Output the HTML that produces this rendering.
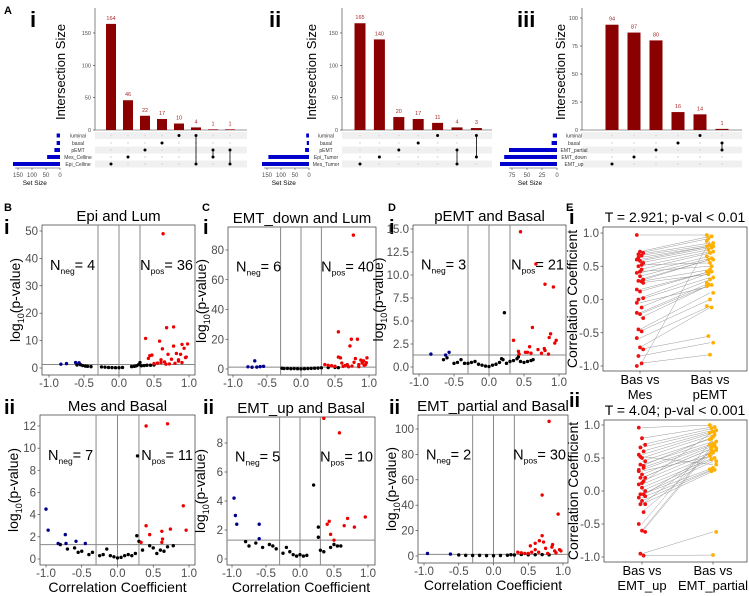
<!DOCTYPE html>
<html><head><meta charset="utf-8"><style>
body{margin:0;background:#fff}
svg{display:block;font-family:"Liberation Sans",sans-serif}
</style></head><body>
<svg id="fig" width="749" height="596" viewBox="0 0 749 596" xmlns="http://www.w3.org/2000/svg"></svg>
<script>
// ---------- UpSet data ----------
const upsetI_values=[164,46,22,17,10,4,1,1];
const upsetI_sets=["luminal","basal","pEMT","Mes_Celline","Epi_Celline"];
const upsetI_setSizes=[12,12,20,46,168];
const upsetI_members=[[4],[3],[2],[1],[0],[0,4],[2,3],[2,4]];
const upsetII_values=[165,140,20,17,11,4,3];
const upsetII_sets=["luminal","basal","pEMT","Epi_Tumor","Mes_Tumor"];
const upsetII_setSizes=[10,8,14,145,168];
const upsetII_members=[[4],[3],[2],[1],[0],[2,4],[0,3]];
const upsetIII_values=[94,87,80,16,14,1];
const upsetIII_sets=["luminal","basal","EMT_partial","EMT_down","EMT_up"];
const upsetIII_setSizes=[7,9,80,88,95];
const upsetIII_members=[[4],[3],[2],[1],[0],[1,2]];

// ---------- Volcano data [corr, -log10 p] ----------
const bI_blue=[[-0.83,1.4],[-0.75,1.6],[-0.62,2.0],[-0.57,1.9]];
const bI_black=[[-0.6,1.1],[-0.55,1.2],[-0.52,0.9],[-0.48,0.7],[-0.45,0.6],[-0.4,0.5],[-0.25,0.4],[-0.2,0.3],[-0.15,0.2],[-0.1,0.15],[-0.05,0.1],[0,0.1],[0.05,0.2],[0.18,0.5],[0.22,0.6],[0.25,0.8],[0.28,1.2],[0.3,2],[0.32,0.8],[0.36,0.9],[0.4,1],[0.45,1],[0.5,1.1]];
const bI_red=[[0.38,10.8],[0.42,3.5],[0.44,4.5],[0.47,4.7],[0.58,9.8],[0.62,7],[0.68,14.7],[0.78,15],[0.7,5],[0.78,8],[0.85,3],[0.9,8.6],[0.93,7.2],[0.98,8.8],[0.96,4],[0.88,5],[0.6,2],[0.65,2.2],[0.72,1.5],[0.55,1.8],[0.63,49],[0.85,2.5],[0.9,2],[0.5,1.6],[0.67,1.4],[0.8,1.7],[0.75,3.2],[0.82,5.3],[0.95,3.8],[0.6,3]];
const cI_blue=[[-0.78,1.5],[-0.72,1.2],[-0.68,5.5],[-0.65,1.3],[-0.6,1.6],[-0.55,1.8]];
const cI_black=[[-0.28,0.5],[-0.25,0.3],[-0.2,0.4],[-0.15,0.2],[-0.1,0.3],[0,0.1],[0.05,0.2],[0.1,0.3],[0.15,0.4],[0.2,0.5],[0.25,0.6],[0.3,0.8],[0.4,1],[0.5,1.1],[0.55,0.9],[-0.05,0.2]];
const cI_red=[[0.77,90],[0.55,25],[0.74,20],[0.83,20],[0.72,15.5],[0.55,8],[0.58,7.5],[0.6,4],[0.35,3],[0.4,2.5],[0.45,2.2],[0.5,1.8],[0.65,2.3],[0.68,3],[0.75,2],[0.78,4.5],[0.8,7],[0.85,3],[0.88,6],[0.9,4],[0.92,5.5],[0.95,3],[0.97,7.5],[0.93,2.5],[0.96,4.2],[0.85,1.6],[0.62,1.8],[0.7,1.5]];
const dI_blue=[[-0.83,1.4],[-0.62,1.3],[-0.57,1.6]];
const dI_black=[[-0.65,0.8],[-0.6,1.0],[-0.5,0.4],[-0.45,0.5],[-0.4,0.8],[-0.35,0.4],[-0.3,0.4],[-0.25,0.5],[-0.2,0.6],[-0.15,0.3],[-0.1,0.2],[-0.05,0.1],[0,0.05],[0.05,0.2],[0.1,0.3],[0.15,0.5],[0.18,0.9],[0.22,5.9],[0.2,0.8],[0.25,0.4],[0.3,0.6],[0.35,0.7],[0.4,0.9],[0.42,1.1],[0.45,0.6],[0.5,0.5],[0.55,0.6],[0.6,0.7],[0.63,0.8]];
const dI_red=[[0.45,14.7],[0.67,11.2],[0.8,9],[0.92,8.7],[0.62,4.3],[0.88,3.6],[0.86,3.2],[0.96,2.9],[0.94,2.6],[0.35,2.9],[0.42,1.7],[0.55,1.6],[0.58,2.2],[0.7,1.9],[0.75,1.5],[0.8,1.8],[0.85,1.4],[0.6,1.5],[0.43,1.4],[0.52,1.6],[0.79,2]];
const bII_blue=[[-1.0,4.5],[-0.97,2.6],[-0.83,1.4],[-0.73,2.2],[-0.72,1.4],[-0.58,1.6],[-0.45,1.4]];
const bII_black=[[-0.8,1.3],[-0.7,0.9],[-0.6,1],[-0.55,0.6],[-0.5,0.7],[-0.4,0.4],[-0.35,0.6],[-0.25,0.3],[-0.2,0.4],[-0.15,0.9],[-0.1,0.3],[-0.05,0.2],[0,0.1],[0.05,0.15],[0.1,0.3],[0.15,0.4],[0.2,0.3],[0.25,0.5],[0.27,2.1],[0.28,9.3],[0.3,1.6],[0.35,0.8],[0.45,1.2],[0.5,1.0],[0.55,0.5],[0.6,0.8],[0.65,0.7],[0.7,1.1],[0.78,1.2]];
const bII_red=[[0.4,12],[0.7,12.2],[0.4,3],[0.45,2.2],[0.62,2.5],[0.63,1.8],[0.62,1.5],[0.74,2.7],[0.92,4.8],[0.96,2.6],[0.33,1.5]];
const cII_blue=[[-0.97,4.2],[-0.95,3],[-0.93,2.4],[-0.6,2.4],[-0.6,1.4]];
const cII_black=[[-0.8,1.2],[-0.75,0.9],[-0.65,1.1],[-0.55,0.8],[-0.45,1.0],[-0.4,0.9],[-0.35,0.7],[-0.25,0.4],[-0.2,0.8],[-0.15,0.5],[-0.1,0.3],[-0.05,0.2],[0,0.3],[0.05,0.2],[0.1,0.25],[0.2,5.1],[0.27,2.2],[0.27,1.5],[0.3,0.6],[0.35,0.5],[0.45,0.8],[0.5,1.0],[0.55,0.9],[0.6,0.9]];
const cII_red=[[0.35,9.7],[0.58,8.7],[0.4,2.4],[0.43,2.6],[0.45,1.7],[0.5,1.3],[0.65,2.3],[0.7,2.8],[0.8,2.2],[0.96,2.9]];
const dII_blue=[[-0.95,2],[-0.62,1.5]];
const dII_black=[[-0.5,0.8],[-0.4,0.5],[-0.3,0.4],[-0.2,0.5],[-0.1,0.3],[0,0.2],[0.1,0.4],[0.2,0.6],[0.25,1],[0.3,0.8],[0.4,1.2],[0.5,0.9],[0.6,1],[0.7,1.1],[0.8,0.9]];
const dII_red=[[0.8,106],[0.7,48],[0.93,33],[0.7,16],[0.66,12],[0.72,11],[0.6,10],[0.53,8],[0.55,3],[0.6,5],[0.75,6],[0.84,7],[0.88,4],[0.9,2.5],[0.95,5],[0.97,4],[0.35,3],[0.4,2.5],[0.45,2],[0.65,3],[0.78,2],[0.85,9],[0.5,2]];

// ---------- Paired data ----------
const eI_left=[0.97,0.72,0.7,0.68,0.66,0.6,0.58,0.55,0.5,0.45,0.4,0.35,0.3,0.28,0.27,0.15,0.12,0.02,0.0,-0.12,-0.2,-0.22,-0.28,-0.45,-0.48,-0.58,-0.72,-0.75,-0.85,-0.96,-1.0,0.42,0.25,0.63,0.52,-0.05];
const eI_right=[0.97,0.95,0.92,0.85,0.82,0.8,0.78,0.75,0.72,0.7,0.65,0.62,0.6,0.6,0.45,0.42,0.42,0.4,0.33,0.3,0.25,0.22,0.22,0.1,0.0,-0.1,-0.12,-0.55,-0.65,-0.83,0.88,0.5,0.38,0.8,0.55,0.2];
const eII_left=[0.96,0.8,0.7,0.66,0.6,0.55,0.5,0.45,0.4,0.35,0.32,0.25,0.2,0.2,0.15,0.1,0.05,0.0,-0.05,-0.05,-0.1,-0.15,-0.2,-0.2,-0.32,-0.5,-0.6,-0.62,-0.95,-0.98,0.3,0.12,-0.08,0.52,0.38];
const eII_right=[1.0,0.97,0.95,0.92,0.9,0.88,0.85,0.8,0.75,0.72,0.7,0.68,0.65,0.65,0.6,0.55,0.5,0.48,0.45,0.35,0.33,0.32,0.3,0.62,0.58,0.78,0.7,0.67,-0.62,-0.97,0.53,0.9,0.6,0.4,0.82];

const NS="http://www.w3.org/2000/svg";
const svg=document.getElementById('fig');
function mk(tag,attrs,parent,text){const e=document.createElementNS(NS,tag);for(const k in attrs)e.setAttribute(k,attrs[k]);if(text!==undefined)e.textContent=text;(parent||svg).appendChild(e);return e;}
function grp(name){const g=mk('g',{});return g;}

[["A",4,14],["B",4,211],["C",202,211],["D",388,211],["E",566,211]].forEach(([t,x,y])=>{
 const e=mk('text',{x:x,y:y,'font-size':11,'font-weight':'bold'},svg,t);
 });
function roman(t,x,y,s){const e=mk('text',{x:x,y:y,'font-size':s||20,'font-weight':'900','font-family':'Liberation Sans, sans-serif'},svg,t);
 }
roman("i",30,27,22);roman("ii",269,27,22);roman("iii",517,27,22);
roman("i",4,234,20);roman("ii",4,414,20);roman("i",203,234,20);roman("ii",203,414,20);
roman("i",389,234,20);roman("ii",389,414,20);roman("i",569,224,20);roman("ii",569,407,20);

// ---------- UpSet ----------
function upset(name,cfg,values,sets,setSizes,members){
 const g=grp(name);
 const base=130, yScale=v=>base-v*cfg.py;
 mk('line',{x1:cfg.ax,y1:cfg.axTop,x2:cfg.ax,y2:base,stroke:'#333','stroke-width':0.6},g);
 mk('line',{x1:cfg.ax,y1:base,x2:cfg.ax+cfg.axLen,y2:base,stroke:'#333','stroke-width':0.6},g);
 cfg.ticks.forEach(t=>{const y=yScale(t);mk('line',{x1:cfg.ax-2,y1:y,x2:cfg.ax,y2:y,stroke:'#333','stroke-width':0.6},g);
  mk('text',{x:cfg.ax-4,y:y+2,'font-size':5.5,'text-anchor':'end',fill:'#4d4d4d'},g,t);});
 const yl=mk('text',{x:0,y:0,'font-size':13,'text-anchor':'middle',transform:`translate(${cfg.labX},${cfg.labY}) rotate(-90)`},g,'Intersection Size');
 
 const rowY=[135.5,143,150,157,164];
 rowY.forEach((y,i)=>{if(i%2==0){mk('rect',{x:cfg.ax,y:y-3.5,width:cfg.axLen,height:7,fill:'#f0f0f0'},g);}});
 values.forEach((v,i)=>{const cx=cfg.x0+i*cfg.dx;
  const b=mk('rect',{x:cx-cfg.bw/2,y:yScale(v),width:cfg.bw,height:v*cfg.py,fill:'#8b0000'},g);
  
  mk('text',{x:cx,y:yScale(v)-4,'font-size':5.5,'text-anchor':'middle',fill:'#a52a2a'},g,v);
  rowY.forEach((y,r)=>mk('circle',{cx:cx,cy:y,r:0.9,fill:'#d9d9d9'},g));
  const m=members[i];const ys=m.map(r=>rowY[r]);
  if(m.length>1)mk('line',{x1:cx,y1:Math.min(...ys),x2:cx,y2:Math.max(...ys),stroke:'#000','stroke-width':0.8},g);
  m.forEach(r=>mk('circle',{cx:cx,cy:rowY[r],r:1.5,fill:'#000'},g));
 });
 sets.forEach((s,i)=>{const y=rowY[i];
  const w=setSizes[i]*cfg.sp;
  const b=mk('rect',{x:cfg.s0-w,y:y-2,width:w,height:4,fill:'#0000cd'},g);
  
  mk('text',{x:cfg.lab,y:y+1.8,'font-size':5,'text-anchor':'middle',fill:'#333'},g,s);});
 mk('line',{x1:cfg.s0-cfg.sTicks[cfg.sTicks.length-1]*cfg.sp-3,y1:168,x2:cfg.s0,y2:168,stroke:'#333','stroke-width':0.5},g);
 cfg.sTicks.forEach(t=>{const x=cfg.s0-t*cfg.sp;mk('line',{x1:x,y1:168,x2:x,y2:170,stroke:'#333','stroke-width':0.5},g);
  mk('text',{x:x,y:177,'font-size':6,'text-anchor':'middle',fill:'#4d4d4d'},g,t);});
 mk('text',{x:cfg.s0-cfg.sTicks[cfg.sTicks.length-1]*cfg.sp*0.6,y:185,'font-size':6.5,'text-anchor':'middle'},g,'Set Size');
}
upset('upset-plot-i',{ax:95,axTop:8,axLen:152,py:0.647,ticks:[0,50,100,150],labX:65,labY:72,x0:111,dx:17,bw:10,s0:60,sp:0.28,sTicks:[0,50,100,150],lab:78},upsetI_values,upsetI_sets,upsetI_setSizes,upsetI_members);
upset('upset-plot-ii',{ax:342,axTop:8,axLen:150,py:0.647,ticks:[0,50,100,150],labX:316,labY:72,x0:360,dx:19.4,bw:11,s0:309,sp:0.28,sTicks:[0,50,100,150],lab:326},upsetII_values,upsetII_sets,upsetII_setSizes,upsetII_members);
upset('upset-plot-iii',{ax:582,axTop:8,axLen:160,py:1.12,ticks:[0,25,50,75,100],labX:565,labY:72,x0:612,dx:22,bw:13,s0:557,sp:0.6,sTicks:[0,25,50,75],lab:574},upsetIII_values,upsetIII_sets,upsetIII_setSizes,upsetIII_members);

// ---------- Volcano ----------
function volcano(name,c,blue,black,red){
 const g=grp(name);
 const X=v=>c.xm1+(v+1)/2*(c.xp1-c.xm1);
 const Y=v=>c.y0-v/c.yref*(c.y0-c.yrefPx);
 mk('rect',{x:c.l,y:c.t,width:c.r-c.l,height:c.b-c.t,fill:'#fff',stroke:'#333','stroke-width':0.7},g);
 [-0.3,0,0.3].forEach(v=>mk('line',{x1:X(v),y1:c.t,x2:X(v),y2:c.b,stroke:'#888','stroke-width':1},g));
 mk('line',{x1:c.l,y1:Y(1.3),x2:c.r,y2:Y(1.3),stroke:'#888','stroke-width':1},g);
 [-1,-0.5,0,0.5,1].forEach(v=>{const x=X(v);mk('line',{x1:x,y1:c.b,x2:x,y2:c.b+2.5,stroke:'#333','stroke-width':0.6},g);
  mk('text',{x:x,y:c.b+12,'font-size':11.5,'text-anchor':'middle',fill:'#4d4d4d'},g,v.toFixed(1));});
 c.yt.forEach(v=>{const y=Y(v);mk('line',{x1:c.l-2.5,y1:y,x2:c.l,y2:y,stroke:'#333','stroke-width':0.6},g);
  mk('text',{x:c.l-4,y:y+4,'font-size':11.5,'text-anchor':'end',fill:'#4d4d4d'},g,c.dec?v.toFixed(1):v);});
 const yl=mk('text',{'font-size':14,'text-anchor':'middle',transform:`translate(${c.l-(c.dec?30:22)},${(c.t+c.b)/2}) rotate(-90)`},g);
 mk('tspan',{},yl,'log');mk('tspan',{'font-size':9,dy:4},yl,'10');mk('tspan',{dy:-4},yl,'(p-value)');
 
 const tt=mk('text',{x:(c.l+c.r)/2,y:c.t-4,'font-size':15,'text-anchor':'middle'},g,c.title);
 
 if(c.xlab){const xl=mk('text',{x:(c.l+c.r)/2,y:c.b+27,'font-size':14,'text-anchor':'middle'},g,'Correlation Coefficient');
  }
 const ny=c.t+(c.b-c.t)*0.3;
 const n1=mk('text',{x:c.l+8,y:ny,'font-size':14.5},g);mk('tspan',{},n1,'N');mk('tspan',{'font-size':8.5,dy:4},n1,'neg');mk('tspan',{dy:-4},n1,'= '+c.nneg);
 const n2=mk('text',{x:c.r-2,y:ny,'font-size':14.5,'text-anchor':'end'},g);mk('tspan',{},n2,'N');mk('tspan',{'font-size':8.5,dy:4},n2,'pos');mk('tspan',{dy:-4},n2,'= '+c.npos);
 [[black,'#000'],[blue,'#00008b'],[red,'#ee0000']].forEach(([arr,col])=>arr.forEach(p=>{
  const d=mk('circle',{cx:X(p[0]),cy:Y(p[1]),r:1.7,fill:col},g);
  }));
}
volcano('volcano-epi-lum',{l:42,r:195,t:225,b:375,xm1:49,xp1:189,y0:368,yref:50,yrefPx:231,yt:[0,10,20,30,40,50],title:'Epi and Lum',nneg:4,npos:36},bI_blue,bI_black,bI_red);
volcano('volcano-emtdown-lum',{l:228,r:376,t:227,b:375,xm1:233,xp1:369,y0:369,yref:80,yrefPx:250,yt:[0,20,40,60,80],title:'EMT_down and Lum',nneg:6,npos:40},cI_blue,cI_black,cI_red);
volcano('volcano-pemt-basal',{l:413,r:566,t:225,b:374,xm1:419,xp1:559,y0:367,yref:15,yrefPx:229,yt:[0,2.5,5,7.5,10,12.5,15],dec:true,title:'pEMT and Basal',nneg:3,npos:21},dI_blue,dI_black,dI_red);
volcano('volcano-mes-basal',{l:40,r:195,t:415,b:565,xm1:46,xp1:189,y0:559,yref:12,yrefPx:426,yt:[0,2,4,6,8,10,12],title:'Mes and Basal',xlab:1,nneg:7,npos:11},bII_blue,bII_black,bII_red);
volcano('volcano-emtup-basal',{l:227,r:375,t:417,b:565,xm1:232,xp1:368,y0:559,yref:8,yrefPx:443,yt:[0,2,4,6,8],title:'EMT_up and Basal',xlab:1,nneg:5,npos:10},cII_blue,cII_black,cII_red);
volcano('volcano-emtpartial-basal',{l:418,r:568,t:415,b:563,xm1:424,xp1:563,y0:556,yref:100,yrefPx:429,yt:[0,20,40,60,80,100],title:'EMT_partial and Basal',xlab:1,nneg:2,npos:30},dII_blue,dII_black,dII_red);

// ---------- Paired ----------
function paired(name,c,left,right){
 const g=grp(name);
 const Yf=v=>c.ym1-(v+1)/2*(c.ym1-c.yp1);
 mk('rect',{x:c.l,y:c.t,width:c.r-c.l,height:c.b-c.t,fill:'#fff',stroke:'#333','stroke-width':0.7},g);
 [-1,-0.5,0,0.5,1].forEach(v=>{const y=Yf(v);mk('line',{x1:c.l-2.5,y1:y,x2:c.l,y2:y,stroke:'#333','stroke-width':0.6},g);
  mk('text',{x:c.l-4,y:y+4,'font-size':11.5,'text-anchor':'end',fill:'#4d4d4d'},g,v.toFixed(1));});
 const yl=mk('text',{'font-size':14,'text-anchor':'middle',transform:`translate(${c.l-26},${(c.t+c.b)/2}) rotate(-90)`},g,'Correlation Coefficient');
 
 const tt=mk('text',{x:675,y:c.t-5,'font-size':14,'text-anchor':'middle'},g,c.title);
 
 left.forEach((v,i)=>{if(right[i]===undefined)return;
  mk('line',{x1:c.xl,y1:Yf(v),x2:c.xr,y2:Yf(right[i]),stroke:'#999','stroke-width':0.5},g);});
 left.forEach((v,i)=>{const d=mk('circle',{cx:c.xl+((i*7)%5-2)*1.6,cy:Yf(v),r:1.9,fill:'#ee1111'},g);
  });
 right.forEach((v,i)=>{const d=mk('circle',{cx:c.xr+((i*3)%5-2)*1.6,cy:Yf(v),r:1.9,fill:'#ffb000'},g);
  });
 [[c.xl,c.cl],[c.xr,c.cr]].forEach(([x,lab])=>{mk('line',{x1:x,y1:c.b,x2:x,y2:c.b+2.5,stroke:'#333','stroke-width':0.6},g);
  mk('text',{x:x,y:c.b+13,'font-size':13,'text-anchor':'middle'},g,'Bas vs');
  mk('text',{x:x,y:c.b+28,'font-size':13,'text-anchor':'middle'},g,lab);});
}
paired('paired-plot-i',{l:603,r:747,t:227,b:371,ym1:366,yp1:233,xl:640,xr:710,cl:'Mes',cr:'pEMT',title:'T = 2.921; p-val < 0.01'},eI_left,eI_right);
paired('paired-plot-ii',{l:604,r:747,t:420,b:562,ym1:557,yp1:425,xl:642,xr:713,cl:'EMT_up',cr:'EMT_partial',title:'T = 4.04; p-val < 0.001'},eII_left,eII_right);
</script>
</body></html>
